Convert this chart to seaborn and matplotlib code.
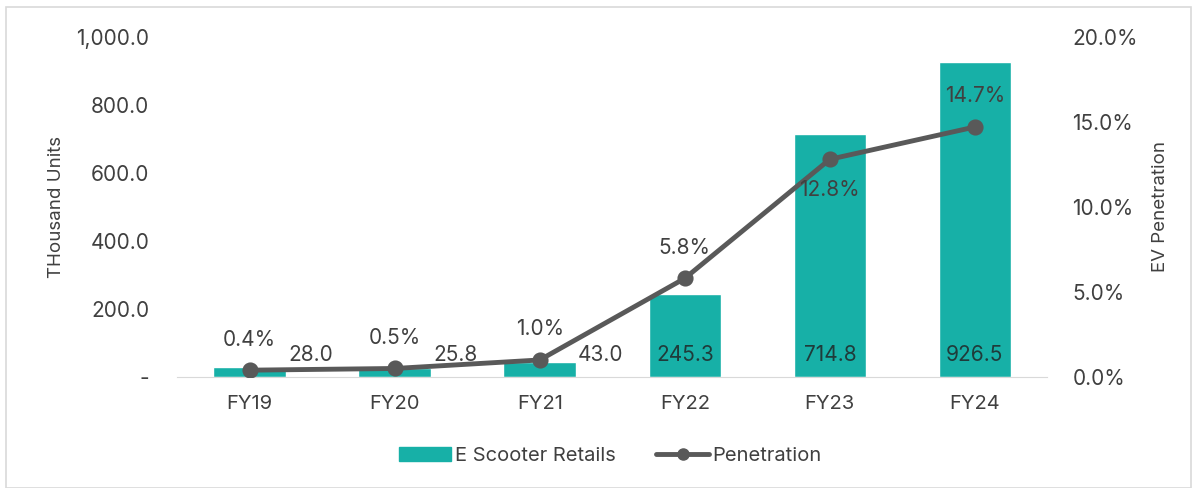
import pandas as pd
import matplotlib.pyplot as plt
import matplotlib.ticker as mticker
from matplotlib.patches import Rectangle
from matplotlib.lines import Line2D
import seaborn as sns

# chart data
years = ["FY19", "FY20", "FY21", "FY22", "FY23", "FY24"]
retails = [28.0, 25.8, 43.0, 245.3, 714.8, 926.5]
penetration = [0.4, 0.5, 1.0, 5.8, 12.8, 14.7]

df = pd.DataFrame({"year": years, "retails": retails, "pen": penetration})

sns.set_style("white")
plt.rcParams["font.family"] = ["Inter", "DejaVu Sans"]

TEAL = "#17B0A7"
GREY = "#595959"
TXT = "#404040"

fig = plt.figure(figsize=(11.97, 4.88), dpi=100)
fig.patches.append(Rectangle((0.005, 0.0), 0.99, 0.985, transform=fig.transFigure,
                             fill=False, edgecolor="#d9d9d9", lw=1.2))
ax = fig.add_axes([0.148, 0.2275, 0.727, 0.697])

sns.barplot(data=df, x="year", y="retails", color=TEAL, width=0.5, saturation=1, ax=ax)
ax.set_ylim(0, 1000)
ax.set_xlim(-0.5, 5.5)
ax.yaxis.set_major_locator(mticker.MultipleLocator(200))
ax.yaxis.set_major_formatter(mticker.FuncFormatter(lambda v, p: "-" if v == 0 else f"{v:,.1f}"))
ax.set_xlabel("")
ax.set_ylabel("THousand Units", fontsize=13.5, color=TXT, labelpad=8)
ax.tick_params(axis="y", labelsize=15, colors=TXT, length=0, pad=20)
ax.tick_params(axis="x", labelsize=14.5, colors=TXT, length=0, pad=13)
for s in ["top", "left", "right"]:
    ax.spines[s].set_visible(False)
ax.spines["bottom"].set_color("#d9d9d9")

ax2 = ax.twinx()
sns.pointplot(data=df, x="year", y="pen", color=GREY, markers="o", markersize=9,
              linewidth=3.5, ax=ax2)
ax2.set_ylim(0, 20)
ax2.set_xlim(-0.5, 5.5)
ax2.yaxis.set_major_locator(mticker.MultipleLocator(5))
ax2.yaxis.set_major_formatter(mticker.FuncFormatter(lambda v, p: f"{v:.1f}%"))
ax2.set_ylabel("EV Penetration", fontsize=13.5, color=TXT, labelpad=10)
ax2.tick_params(axis="y", labelsize=15, colors=TXT, length=0, pad=18)
for s in ax2.spines.values():
    s.set_visible(False)

# bar labels
for i, v in enumerate(retails):
    if v < 100:
        ax.text(i + 0.42, 64, f"{v:.1f}", ha="center", va="center", fontsize=15, color=TXT)
    else:
        ax.text(i, 64, f"{v:.1f}", ha="center", va="center", fontsize=15, color="#1f3b3a")

# penetration labels
offs = [1.8, 1.8, 1.8, 1.8, -1.8, 1.8]
for i, (v, o) in enumerate(zip(penetration, offs)):
    ax2.text(i, v + o, f"{v:.1f}%", ha="center", va="center", fontsize=15, color=TXT)

handles = [Rectangle((0, 0), 1, 1, color=TEAL),
           Line2D([0], [0], color=GREY, lw=3.5, marker="o", markersize=8)]
fig.legend(handles, ["E Scooter Retails", "Penetration"], loc="center",
           bbox_to_anchor=(0.51, 0.065), ncol=2, frameon=False, fontsize=14.5,
           labelcolor=TXT, handlelength=2.6, handletextpad=0.2, columnspacing=2.0)

fig.savefig("out.png", dpi=100)
